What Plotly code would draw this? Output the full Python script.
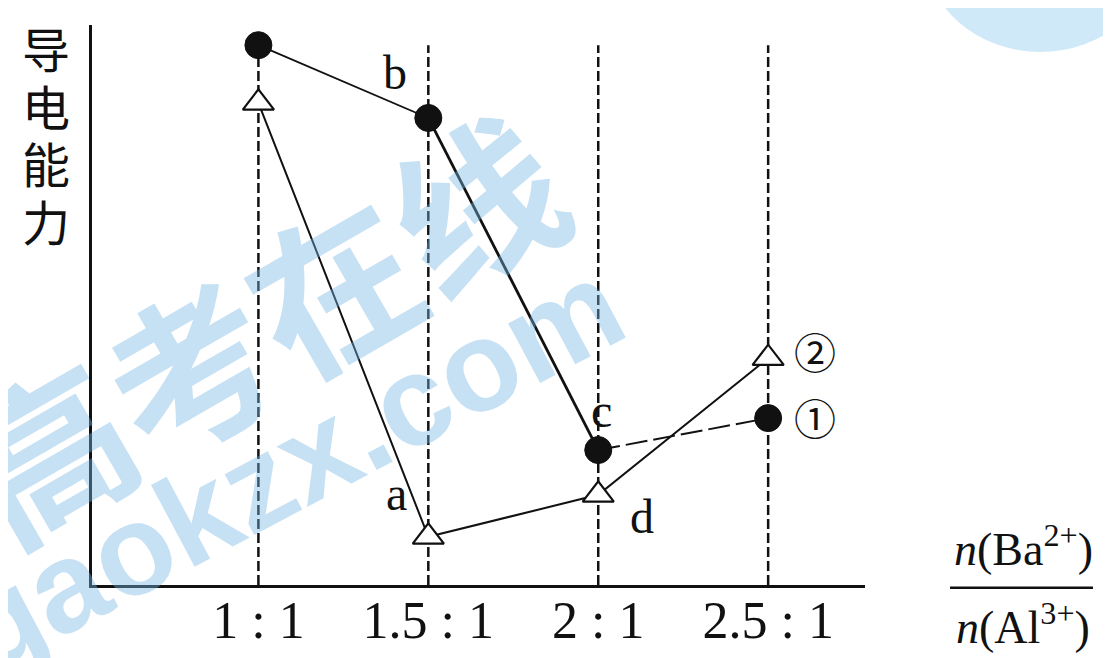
import plotly.graph_objects as go

# x positions (n(Ba2+) : n(Al3+)) and tick texts
ratios = [1.0, 1.5, 2.0, 2.5]
tick_text = ["1 : 1", "1.5 : 1", "2 : 1", "2.5 : 1"]

# conductivity curves (arbitrary units)
curve1 = [9.64, 8.34, 2.41, 2.98]   # filled circles, (1)
curve2 = [8.61, 0.86, 1.61, 4.05]   # open triangles, (2)
guide_top = 9.64

# point labels: (series, index, text, xshift, yshift)
point_labels = [
    (curve1, 1, "b", -33, 45),
    (curve2, 1, "a", -32, 43),
    (curve1, 2, "c", 3, 40),
    (curve2, 2, "d", 44, -22),
    (curve2, 3, "②", 47, 3),
    (curve1, 3, "①", 47, -3),
]

serif = "Liberation Serif, Noto Sans CJK SC"
ink = "#111111"

fig = go.Figure()

# vertical dashed guide lines
gx, gy = [], []
for r in ratios:
    gx += [r, r, None]
    gy += [0, guide_top, None]
fig.add_trace(go.Scatter(x=gx, y=gy, mode="lines",
                         line=dict(color=ink, width=2.5, dash="10px,4px"),
                         hoverinfo="skip"))

# curve (1): thin then thick solid, last segment dashed
fig.add_trace(go.Scatter(x=ratios[:2], y=curve1[:2], mode="lines",
                         line=dict(color=ink, width=1.8)))
fig.add_trace(go.Scatter(x=ratios[1:3], y=curve1[1:3], mode="lines",
                         line=dict(color=ink, width=2.8)))
fig.add_trace(go.Scatter(x=ratios[2:], y=curve1[2:], mode="lines",
                         line=dict(color=ink, width=2, dash="22px,6px")))

# curve (2)
fig.add_trace(go.Scatter(x=ratios, y=curve2, mode="lines",
                         line=dict(color=ink, width=2)))

# markers on top
fig.add_trace(go.Scatter(x=ratios, y=curve2, mode="markers",
                         marker=dict(symbol="triangle-up", size=27, color="white",
                                     line=dict(color=ink, width=2.2))))
fig.add_trace(go.Scatter(x=ratios, y=curve1, mode="markers",
                         marker=dict(symbol="circle", size=27, color=ink,
                                     line=dict(color=ink, width=1))))

for series, i, txt, dx, dy in point_labels:
    fig.add_annotation(x=ratios[i], y=series[i], text=txt, showarrow=False,
                       xshift=dx, yshift=dy, xanchor="center", yanchor="middle",
                       font=dict(family=serif, size=48 if txt in "abcd" else 42,
                                 color=ink))

# y-axis title, one character per line
for k, ch in enumerate("导电能力"):
    fig.add_annotation(x=-0.0595, y=0.9607 - k * 0.1031, xref="paper", yref="paper",
                       text=ch, showarrow=False, xanchor="center", yanchor="middle",
                       font=dict(family="Noto Sans CJK SC", size=48, color=ink))

# x-axis title as a fraction
fig.add_annotation(x=1.205, y=0.07, xref="paper", yref="paper",
                   text="<i>n</i>(Ba<sup>2+</sup>)", showarrow=False,
                   xanchor="center", yanchor="middle",
                   font=dict(family=serif, size=46, color=ink))
fig.add_annotation(x=1.205, y=-0.07, xref="paper", yref="paper",
                   text="<i>n</i>(Al<sup>3+</sup>)", showarrow=False,
                   xanchor="center", yanchor="middle",
                   font=dict(family=serif, size=46, color=ink))
fig.add_shape(type="line", xref="paper", yref="paper",
              x0=1.110, x1=1.295, y0=-0.005, y1=-0.005,
              line=dict(color=ink, width=2.5))

# watermark
wm = "rgba(120,180,228,0.42)"
fig.add_annotation(x=0.216, y=0.468, xref="paper", yref="paper",
                   text="<b>高考在线</b>", showarrow=False, textangle=-30,
                   xanchor="center", yanchor="middle",
                   font=dict(family="Noto Sans CJK SC", size=165, color=wm))
fig.add_annotation(x=0.254, y=0.212, xref="paper", yref="paper",
                   text="<b>gaokzx.com</b>", showarrow=False, textangle=-28,
                   xanchor="center", yanchor="middle",
                   font=dict(family="Liberation Sans", size=128, color=wm))
fig.add_shape(type="circle", xref="paper", yref="paper", layer="below",
              x0=1.078, x1=1.376, y0=0.952, y1=1.31,
              fillcolor="#d0e9f8", line=dict(width=0))

# page body has an 8px margin, so the figure is 8px smaller and shifted
fig.update_layout(
    width=1103, height=650,
    margin=dict(l=84, r=246, t=17, b=73, autoexpand=False),
    plot_bgcolor="white", paper_bgcolor="white",
    showlegend=False,
    xaxis=dict(range=[0.5103, 2.785], tickvals=ratios, ticktext=tick_text,
               showgrid=False, zeroline=False, showline=True, automargin=False,
               linecolor=ink, linewidth=2.5, ticks="", ticklabelstandoff=-12,
               tickfont=dict(family=serif, size=52, color=ink)),
    yaxis=dict(range=[0, 10], showgrid=False, zeroline=False, showline=True,
               automargin=False,
               linecolor=ink, linewidth=2.5, showticklabels=False, ticks=""),
)

fig.write_html("out.html")
